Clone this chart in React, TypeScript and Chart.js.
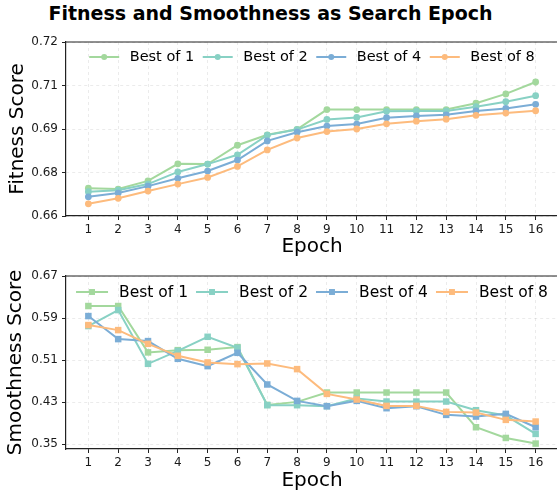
import React, { useEffect, useRef } from 'react';
import { Chart, registerables } from 'chart.js';

Chart.register(...registerables);

// ---------------- data ----------------
const epochs = [1, 2, 3, 4, 5, 6, 7, 8, 9, 10, 11, 12, 13, 14, 15, 16];
const seriesNames = ['Best of 1', 'Best of 2', 'Best of 4', 'Best of 8'];
const seriesColors = ['#a3d89d', '#88d1c4', '#7badd6', '#fdbb7d'];

const fitnessBest1 = [0.6696, 0.6693, 0.6721, 0.678, 0.6779, 0.6844, 0.688, 0.6899, 0.6967, 0.6967, 0.6967, 0.6967, 0.6967, 0.6989, 0.7021, 0.7062];
const fitnessBest2 = [0.6684, 0.6689, 0.671, 0.6752, 0.6779, 0.6811, 0.6879, 0.6898, 0.6933, 0.694, 0.6961, 0.6962, 0.6962, 0.6977, 0.6994, 0.7015];
const fitnessBest4 = [0.6666, 0.6679, 0.6703, 0.673, 0.6755, 0.6793, 0.6859, 0.6889, 0.691, 0.6917, 0.6939, 0.6945, 0.6949, 0.6962, 0.6971, 0.6985];
const fitnessBest8 = [0.6642, 0.6661, 0.6686, 0.671, 0.6733, 0.6771, 0.6828, 0.6869, 0.6891, 0.69, 0.6918, 0.6927, 0.6934, 0.6947, 0.6955, 0.6963];

const smoothBest1 = [0.6129, 0.6129, 0.5247, 0.529, 0.5297, 0.5348, 0.4249, 0.4306, 0.4484, 0.4484, 0.4484, 0.4484, 0.4484, 0.3824, 0.362, 0.3513];
const smoothBest2 = [0.5748, 0.6052, 0.503, 0.5275, 0.5544, 0.5335, 0.4243, 0.4243, 0.4224, 0.437, 0.4313, 0.4313, 0.4313, 0.4148, 0.4046, 0.3697];
const smoothBest4 = [0.5938, 0.55, 0.5462, 0.5125, 0.4986, 0.5239, 0.4637, 0.4325, 0.4224, 0.4325, 0.4186, 0.4224, 0.4059, 0.4027, 0.4078, 0.3824];
const smoothBest8 = [0.5767, 0.5671, 0.541, 0.5182, 0.5056, 0.5024, 0.5037, 0.4929, 0.4458, 0.4351, 0.423, 0.423, 0.4116, 0.4103, 0.3964, 0.3932];

const fitnessTicks = [0.66, 0.675, 0.69, 0.705, 0.72];
const fitnessTickLabels = ['0.66', '0.68', '0.69', '0.71', '0.72'];
const smoothTicks = [0.35, 0.43, 0.51, 0.59, 0.67];
const smoothTickLabels = ['0.35', '0.43', '0.51', '0.59', '0.67'];

const titleText = 'Fitness and Smoothness as Search Epoch';
const xTitle = 'Epoch';
const fitnessTitle = 'Fitness Score';
const smoothTitle = 'Smoothness Score';

// ---------------- helpers ----------------
const FONT = '"DejaVu Sans", Verdana, sans-serif';
const CANVAS_W = 570;

const legendPlugin = {
  id: 'customLegend',
  afterDatasetsDraw(chart: any, _args: any, opts: any) {
    const { ctx, chartArea } = chart;
    const { fontSize, handleLen, textPad, colGap, y, pointStyle, radius } = opts;
    ctx.save();
    ctx.font = `${fontSize}px ${FONT}`;
    const widths = seriesNames.map((n) => ctx.measureText(n).width);
    const total = widths.reduce((a, w) => a + handleLen + textPad + w, 0) + colGap * (seriesNames.length - 1);
    let x = (chartArea.left + chartArea.right) / 2 - total / 2;
    seriesNames.forEach((name, i) => {
      const c = seriesColors[i];
      ctx.strokeStyle = c;
      ctx.fillStyle = c;
      ctx.lineWidth = 2;
      ctx.beginPath();
      ctx.moveTo(x, y);
      ctx.lineTo(x + handleLen, y);
      ctx.stroke();
      const cx = x + handleLen / 2;
      ctx.beginPath();
      if (pointStyle === 'rect') {
        const s = radius * Math.SQRT1_2;
        ctx.rect(cx - s, y - s, 2 * s, 2 * s);
      } else {
        ctx.arc(cx, y, radius, 0, Math.PI * 2);
      }
      ctx.fill();
      ctx.fillStyle = '#000';
      ctx.textBaseline = 'middle';
      ctx.textAlign = 'left';
      ctx.fillText(name, x + handleLen + textPad, y + 0.5);
      x += handleLen + textPad + widths[i] + colGap;
    });
    ctx.restore();
  },
};

const topBorderPlugin = {
  id: 'topBorder',
  afterDraw(chart: any) {
    const { ctx, chartArea } = chart;
    ctx.save();
    ctx.strokeStyle = '#222';
    ctx.lineWidth = 1.2;
    ctx.beginPath();
    ctx.moveTo(chartArea.left, chartArea.top);
    ctx.lineTo(chartArea.right + 1, chartArea.top);
    ctx.moveTo(chartArea.right, chartArea.top);
    ctx.lineTo(chartArea.right, chartArea.bottom);
    ctx.stroke();
    ctx.restore();
  },
};

function makeConfig(p: {
  series: number[][];
  yMin: number;
  yMax: number;
  yTicks: number[];
  yLabels: string[];
  yTitle: string;
  yTitlePad: number;
  pointStyle: string;
  radius: number;
  padTop: number;
  xHeight: number;
  xTitlePad: number;
  legend: any;
}): any {
  return {
    type: 'line',
    data: {
      datasets: p.series.map((vals, i) => ({
        label: seriesNames[i],
        data: epochs.map((e, j) => ({ x: e, y: vals[j] })),
        borderColor: seriesColors[i],
        backgroundColor: seriesColors[i],
        borderWidth: 2,
        pointStyle: p.pointStyle,
        pointRadius: p.radius,
        pointBorderWidth: 0,
        pointHoverRadius: p.radius,
        tension: 0,
        order: 3 - i,
      })),
    },
    options: {
      responsive: false,
      animation: false,
      events: [],
      layout: { padding: { left: 0, right: CANVAS_W - 558, top: p.padTop, bottom: 0 } },
      plugins: {
        legend: { display: false },
        tooltip: { enabled: false },
        title: { display: false },
        customLegend: p.legend,
      },
      scales: {
        x: {
          type: 'linear',
          min: 0.25,
          max: 16.75,
          afterBuildTicks: (s: any) => {
            s.ticks = epochs.map((v) => ({ value: v }));
          },
          afterFit: (s: any) => {
            s.height = p.xHeight;
          },
          ticks: {
            autoSkip: false,
            maxRotation: 0,
            padding: 3,
            color: '#1a1a1a',
            font: { family: FONT, size: 12 },
            callback: (v: any) => String(v),
          },
          grid: {
            color: 'rgba(0,0,0,0.1)',
            lineWidth: 0.8,
            tickColor: '#222',
            tickLength: 4,
            tickWidth: 1,
            tickBorderDash: [],
          },
          border: { display: true, color: '#222', width: 1.2, dash: [3, 3] },
          title: {
            display: true,
            text: xTitle,
            color: '#000',
            font: { family: FONT, size: 20 },
            padding: { top: 0, bottom: p.xTitlePad },
          },
        },
        y: {
          type: 'linear',
          min: p.yMin,
          max: p.yMax,
          afterBuildTicks: (s: any) => {
            s.ticks = p.yTicks.map((v) => ({ value: v }));
          },
          afterFit: (s: any) => {
            s.width = 66;
          },
          ticks: {
            padding: 4,
            color: '#1a1a1a',
            font: { family: FONT, size: 12 },
            callback: (_v: any, i: number) => p.yLabels[i],
          },
          grid: {
            color: 'rgba(0,0,0,0.1)',
            lineWidth: 0.8,
            tickColor: '#222',
            tickLength: 4,
            tickWidth: 1,
            tickBorderDash: [],
          },
          border: { display: true, color: '#222', width: 1.2, dash: [3, 3] },
          title: {
            display: true,
            text: p.yTitle,
            color: '#000',
            font: { family: FONT, size: 20 },
            padding: { top: p.yTitlePad, bottom: 0 },
          },
        },
      },
    },
    plugins: [legendPlugin, topBorderPlugin],
  };
}

export default function App() {
  const topRef = useRef<HTMLCanvasElement>(null);
  const botRef = useRef<HTMLCanvasElement>(null);

  useEffect(() => {
    const top = new Chart(
      topRef.current as HTMLCanvasElement,
      makeConfig({
        series: [fitnessBest1, fitnessBest2, fitnessBest4, fitnessBest8],
        yMin: 0.66,
        yMax: 0.72,
        yTicks: fitnessTicks,
        yLabels: fitnessTickLabels,
        yTitle: fitnessTitle,
        yTitlePad: 5.5,
        pointStyle: 'circle',
        radius: 3.4,
        padTop: 42,
        xHeight: 44,
        xTitlePad: 1,
        legend: { fontSize: 14.5, handleLen: 30, textPad: 10.5, colGap: 8.5, y: 57, pointStyle: 'circle', radius: 3 },
      })
    );
    const bot = new Chart(
      botRef.current as HTMLCanvasElement,
      makeConfig({
        series: [smoothBest1, smoothBest2, smoothBest4, smoothBest8],
        yMin: 0.341,
        yMax: 0.67,
        yTicks: smoothTicks,
        yLabels: smoothTickLabels,
        yTitle: smoothTitle,
        yTitlePad: 3.5,
        pointStyle: 'rect',
        radius: 4.6,
        padTop: 18,
        xHeight: 44,
        xTitlePad: 0,
        legend: { fontSize: 15.5, handleLen: 32, textPad: 11, colGap: 8, y: 34, pointStyle: 'rect', radius: 4.2 },
      })
    );
    return () => {
      top.destroy();
      bot.destroy();
    };
  }, []);

  return (
    <div
      style={{
        position: 'fixed',
        left: 0,
        top: 0,
        width: 557,
        height: 493,
        overflow: 'hidden',
        background: '#fff',
      }}
    >
      <div
        style={{
          position: 'absolute',
          left: 0,
          top: 0,
          width: 541,
          textAlign: 'center',
          fontFamily: FONT,
          fontWeight: 'bold',
          fontSize: 19,
          lineHeight: '26px',
          color: '#000',
          whiteSpace: 'nowrap',
        }}
      >
        {titleText}
      </div>
      <canvas
        ref={topRef}
        width={CANVAS_W}
        height={260}
        style={{ position: 'absolute', left: 0, top: 0, width: CANVAS_W, height: 260 }}
      />
      <canvas
        ref={botRef}
        width={CANVAS_W}
        height={235}
        style={{ position: 'absolute', left: 0, top: 258, width: CANVAS_W, height: 235 }}
      />
    </div>
  );
}
